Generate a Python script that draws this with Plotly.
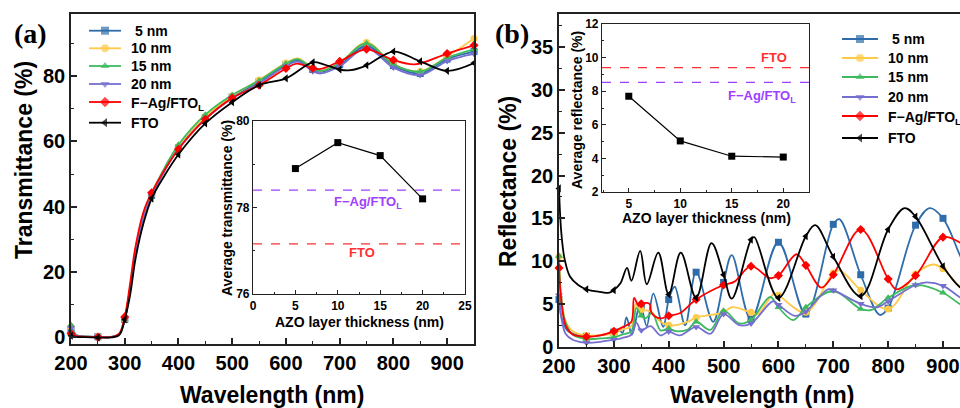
import plotly.graph_objects as go

W, H = 960, 408

# ---------------- shared series info ----------------
names = ["5 nm", "10 nm", "15 nm", "20 nm", "F−Ag/FTO<sub>L</sub>", "FTO"]
colors = ["#2F6DAA", "#FFC94A", "#3DBA5E", "#7570D0", "#FF0000", "#000000"]
symbols = ["square", "circle", "triangle-up", "triangle-down", "diamond", "triangle-left"]

# ---------------- Panel (a): transmittance ----------------
ta_wl = [200, 210, 225, 250, 275, 290, 300, 310, 320, 335, 350, 375, 400, 450, 500,
         550, 600, 622, 650, 665, 700, 750, 800, 850, 900, 950]
ta_5nm = [2.5, 0.6, 0.3, 0.2, 0.2, 1.0, 5.5, 15.0, 26.0, 37.0, 43.5, 51.5, 58.0, 67.3, 73.6,
          78.3, 83.5, 84.8, 82.0, 81.3, 83.5, 89.2, 83.2, 80.8, 85.2, 87.5]
ta_10nm = [3.3, 0.7, 0.3, 0.2, 0.2, 1.0, 5.6, 15.2, 26.3, 37.3, 43.8, 51.8, 58.4, 67.6, 73.9,
           78.8, 84.0, 85.4, 82.4, 81.6, 84.0, 90.3, 83.6, 81.5, 86.0, 91.5]
ta_15nm = [3.8, 0.8, 0.3, 0.2, 0.2, 1.0, 5.6, 15.4, 26.6, 37.6, 44.0, 52.2, 59.0, 68.2, 74.2,
           78.6, 83.8, 85.2, 82.3, 81.6, 84.0, 90.0, 83.6, 81.4, 85.6, 88.2]
ta_20nm = [3.0, 0.6, 0.3, 0.2, 0.2, 1.0, 5.4, 14.8, 25.8, 36.8, 43.3, 51.2, 57.8, 66.8, 73.2,
           77.8, 83.0, 84.4, 81.5, 80.8, 83.0, 88.6, 82.6, 80.3, 84.6, 86.8]
ta_wl_fag = [200, 210, 225, 250, 275, 290, 300, 310, 320, 335, 350, 375, 400, 450, 500,
             550, 600, 620, 650, 665, 700, 750, 800, 840, 900, 950]
ta_fag = [1.2, 0.4, 0.2, 0.1, 0.1, 1.3, 6.3, 16.5, 27.8, 38.5, 44.3, 51.5, 57.6, 66.8, 73.3,
          77.2, 82.3, 83.8, 82.4, 82.2, 84.5, 88.2, 84.9, 83.6, 86.9, 89.4]
ta_wl_fto = [200, 210, 225, 250, 275, 290, 300, 310, 320, 335, 350, 375, 400, 450, 500,
             550, 600, 650, 670, 700, 720, 750, 800, 850, 900, 950]
ta_fto = [0.5, 0.2, 0.1, 0.0, 0.0, 0.8, 5.5, 13.0, 24.0, 35.0, 42.5, 49.8, 56.0, 65.5, 72.0,
          77.2, 79.3, 84.2, 83.6, 82.0, 81.8, 83.3, 87.5, 84.5, 81.6, 84.0]

# inset (a)
inset_a_thk = [5, 10, 15, 20]
inset_a_avgT = [78.9, 79.5, 79.2, 78.2]
inset_a_ref_fag = 78.4
inset_a_ref_fto = 77.16

# ---------------- Panel (b): reflectance ----------------
rb_wl_5nm = [200, 205, 215, 230, 250, 275, 300, 310, 316, 323, 333, 347, 350, 360, 372, 390,
             400, 411, 430, 450, 481, 500, 515, 550, 600, 650, 700, 711, 750, 785, 800, 850,
             876, 900, 930, 950]
rb_5nm = [5.5, 3.3, 1.9, 1.4, 1.2, 1.3, 1.7, 1.9, 1.6, 3.4, 1.4, 4.9, 4.7, 2.4, 6.2, 2.3,
          5.5, 7.0, 2.5, 8.7, 2.9, 7.5, 10.7, 3.2, 12.2, 3.8, 14.3, 14.9, 8.4, 3.7, 4.5, 14.2,
          16.2, 15.0, 10.8, 7.8]
rb_wl_10nm = [200, 204, 212, 225, 250, 275, 300, 315, 332, 340, 345, 350, 367, 385, 400, 413,
              438, 450, 500, 515, 550, 562, 592, 600, 650, 700, 712, 750, 800, 850, 882, 900,
              930, 950]
rb_10nm = [10.5, 6.0, 3.0, 1.8, 1.3, 1.35, 1.5, 2.0, 2.4, 5.0, 4.4, 4.3, 4.1, 2.9, 2.5, 2.5,
           3.0, 3.4, 4.0, 4.6, 4.0, 3.8, 6.2, 6.0, 4.0, 8.6, 8.9, 6.6, 4.4, 8.5, 9.6, 9.1,
           7.0, 5.8]
rb_wl_15nm = [200, 204, 212, 225, 250, 275, 300, 315, 332, 341, 350, 357, 370, 385, 400, 413,
              435, 450, 476, 500, 529, 550, 585, 600, 627, 650, 700, 750, 770, 800, 850, 900,
              930, 950]
rb_15nm = [10.6, 5.5, 2.8, 1.4, 0.9, 0.95, 1.1, 1.4, 1.8, 4.5, 3.6, 3.3, 3.9, 1.9, 2.1, 1.8,
           2.0, 2.9, 1.95, 4.2, 2.7, 3.1, 5.8, 4.6, 3.1, 4.6, 6.5, 4.4, 4.3, 5.7, 7.2, 6.3,
           5.0, 4.3]
rb_wl_20nm = [200, 204, 212, 225, 250, 275, 300, 315, 332, 341, 350, 367, 385, 400, 420, 450,
              476, 500, 529, 550, 590, 600, 630, 650, 690, 700, 750, 780, 800, 850, 870, 900,
              930, 950]
rb_20nm = [6.0, 3.5, 1.5, 0.8, 0.45, 0.55, 0.8, 1.0, 1.4, 2.8, 1.9, 2.4, 1.3, 1.75, 1.3, 2.3,
           1.5, 3.8, 2.5, 2.7, 5.3, 4.9, 3.6, 4.1, 6.7, 6.6, 5.0, 4.6, 5.3, 7.2, 7.5, 7.1,
           5.8, 5.0]
rb_wl_fag = [200, 204, 212, 225, 250, 275, 300, 317, 332, 337, 345, 350, 365, 369, 385, 400,
             420, 450, 500, 520, 550, 585, 600, 633, 650, 678, 700, 750, 800, 815, 850, 900,
             930, 950]
rb_fag = [9.2, 5.5, 2.5, 1.4, 1.15, 1.3, 1.8, 2.3, 2.9, 5.7, 4.8, 5.0, 5.0, 3.9, 3.3, 3.6,
          3.9, 5.5, 7.2, 7.6, 9.4, 8.0, 8.3, 10.8, 9.5, 6.9, 8.4, 13.7, 7.9, 6.7, 8.3, 12.8,
          12.2, 11.0]
rb_wl_fto = [200, 204, 210, 220, 235, 250, 275, 292, 300, 312, 324, 332, 348, 360, 381, 400,
             422, 450, 478, 500, 515, 550, 556, 600, 650, 667, 700, 750, 800, 830, 850, 900,
             930, 950]
rb_fto = [18.5, 13.5, 10.3, 8.2, 7.2, 6.7, 6.4, 6.3, 6.6, 7.4, 9.2, 7.7, 11.2, 7.3, 11.0, 6.1,
          11.0, 5.7, 12.1, 8.4, 5.6, 12.5, 12.8, 5.7, 12.9, 14.2, 10.5, 5.9, 13.7, 16.2, 15.2,
          9.4, 7.0, 6.3]

# inset (b)
inset_b_thk = [5, 10, 15, 20]
inset_b_avgR = [7.7, 5.04, 4.13, 4.08]
inset_b_ref_fto = 9.4
inset_b_ref_fag = 8.53

# ---------------- helpers ----------------
def px(x):
    return x / W

def py(y):
    return 1 - y / H

FONT = "Liberation Sans, Arial, sans-serif"
AX = "#222222"

fig = go.Figure()

panel_a = [(ta_wl, ta_5nm), (ta_wl, ta_10nm), (ta_wl, ta_15nm), (ta_wl, ta_20nm),
           (ta_wl_fag, ta_fag), (ta_wl_fto, ta_fto)]
panel_b = [(rb_wl_5nm, rb_5nm), (rb_wl_10nm, rb_10nm), (rb_wl_15nm, rb_15nm),
           (rb_wl_20nm, rb_20nm), (rb_wl_fag, rb_fag), (rb_wl_fto, rb_fto)]

for (xa, ya), (xb, yb), c, s in zip(panel_a, panel_b, colors, symbols):
    for (xx, yy, xr, yr) in [(xa, ya, "x", "y"), (xb, yb, "x2", "y2")]:
        fig.add_trace(go.Scatter(x=xx, y=yy, mode="lines", xaxis=xr, yaxis=yr,
                                 line=dict(color=c, width=1.8, shape="spline", smoothing=1.0),
                                 showlegend=False, hoverinfo="skip"))
        mx = [a for a in xx if a % 50 == 0]
        my = [b for a, b in zip(xx, yy) if a % 50 == 0]
        fig.add_trace(go.Scatter(x=mx, y=my, mode="markers", xaxis=xr, yaxis=yr,
                                 marker=dict(color=c, symbol=s, size=7, line=dict(width=0)),
                                 cliponaxis=False, showlegend=False, hoverinfo="skip"))

# insets
fig.add_trace(go.Scatter(x=inset_a_thk, y=inset_a_avgT, mode="lines+markers", xaxis="x3", yaxis="y3",
                         line=dict(color="black", width=1.2),
                         marker=dict(symbol="square", size=7, color="black"),
                         showlegend=False, hoverinfo="skip"))
fig.add_trace(go.Scatter(x=inset_b_thk, y=inset_b_avgR, mode="lines+markers", xaxis="x4", yaxis="y4",
                         line=dict(color="black", width=1.2),
                         marker=dict(symbol="square", size=7, color="black"),
                         showlegend=False, hoverinfo="skip"))

PURPLE = "#A040FF"
RED2 = "#FF3030"
shapes = []
for xr, yr, val, col in [("x3", "y3", inset_a_ref_fag, PURPLE), ("x3", "y3", inset_a_ref_fto, RED2),
                         ("x4", "y4", inset_b_ref_fag, PURPLE), ("x4", "y4", inset_b_ref_fto, RED2)]:
    shapes.append(dict(type="line", xref=f"{xr} domain", yref=yr, x0=0, x1=1, y0=val, y1=val,
                       line=dict(color=col, width=1.2, dash="dash")))

# manual legends drawn on a full-page overlay axis (pixel units)
leg_a_rows = [30.7, 48.3, 66.0, 84.0, 102.0, 122.7]
leg_b_rows = [39.0, 58.0, 77.0, 97.0, 116.0, 138.0]
leg_a_line = (89, 121)
leg_b_line = (842, 878)
for rows, (x0, x1) in [(leg_a_rows, leg_a_line), (leg_b_rows, leg_b_line)]:
    for yrow, c, s in zip(rows, colors, symbols):
        fig.add_trace(go.Scatter(x=[x0, (x0 + x1) / 2, x1], y=[yrow, yrow, yrow], mode="lines+markers",
                                 xaxis="x5", yaxis="y5", line=dict(color=c, width=1.8),
                                 marker=dict(symbol=s, size=[0, 8, 0], color=c, line=dict(width=0)),
                                 showlegend=False, hoverinfo="skip", cliponaxis=False))

annotations = []
def ann(text, x, y, size, color="black", angle=0, xanchor="center", family=FONT, weight="bold"):
    annotations.append(dict(text=text, x=px(x), y=py(y), xref="paper", yref="paper",
                            xanchor=xanchor, yanchor="middle", showarrow=False, textangle=angle,
                            font=dict(family=family, size=size, color=color, weight=weight)))

leg_a_text_x = [133, 129, 129, 129, 129, 129]
leg_b_text_x = [890, 886, 886, 886, 886, 886]
for rows, xs in [(leg_a_rows, leg_a_text_x), (leg_b_rows, leg_b_text_x)]:
    for yrow, xt, n in zip(rows, xs, names):
        ann(n, xt, yrow + (2 if "sub" in n else 0), 14, xanchor="left")

SERIF = "Liberation Serif, Times New Roman, serif"
ann("(a)", 30, 33, 28, family=SERIF)
ann("(b)", 512, 33, 28, family=SERIF)
ann("Transmittance (%)", 24, 160, 23, angle=-90)
ann("Wavelength (nm)", 272, 395, 23)
ann("Reflectance (%)", 508, 182, 23, angle=-90)
ann("Wavelength (nm)", 762, 395, 23)
ann("Average transmittance (%)", 227, 208, 14, angle=-90)
ann("AZO layer thickness (nm)", 359, 322, 14)
ann("F−Ag/FTO<sub>L</sub>", 368, 202, 13, color=PURPLE)
ann("FTO", 362, 252, 13, color=RED2)
ann("Average reflectance (%)", 577, 110, 14, angle=-90)
ann("AZO layer thickness (nm)", 706, 218, 14)
ann("FTO", 774, 58, 13, color=RED2)
ann("F−Ag/FTO<sub>L</sub>", 762, 96, 13, color=PURPLE)

def main_axis(domain, rng, tick0, dtick, mdtick, anchor, mirror=True):
    return dict(domain=domain, range=rng, anchor=anchor, tick0=tick0, dtick=dtick,
                ticks="inside", ticklen=6, tickwidth=1.5, tickcolor=AX,
                showline=True, linecolor=AX, linewidth=1.5, mirror=mirror,
                showgrid=False, zeroline=False,
                tickfont=dict(family=FONT, size=20, color="black", weight="bold"),
                minor=dict(dtick=mdtick, ticks="inside", ticklen=3, tickwidth=1.2, tickcolor=AX,
                           showgrid=False))

def inset_axis(domain, rng, tick0, dtick, mdtick, anchor):
    return dict(domain=domain, range=rng, anchor=anchor, tick0=tick0, dtick=dtick,
                ticks="inside", ticklen=4, tickwidth=1, tickcolor=AX,
                showline=True, linecolor=AX, linewidth=1.2, mirror=True,
                showgrid=False, zeroline=False,
                tickfont=dict(family=FONT, size=12, color="black", weight="bold"),
                minor=dict(dtick=mdtick, ticks="inside", ticklen=2, tickwidth=1, tickcolor=AX,
                           showgrid=False))

fig.update_layout(
    width=W, height=H,
    margin=dict(l=0, r=0, t=0, b=0, pad=0, autoexpand=False),
    paper_bgcolor="white", plot_bgcolor="rgba(0,0,0,0)",
    showlegend=False,
    xaxis=main_axis([px(71), px(474)], [200, 950], 200, 100, 50, "y"),
    yaxis=main_axis([py(344), py(14)], [-2, 99], 0, 20, 10, "x"),
    xaxis2=main_axis([px(559), 1.0], [200, 931], 200, 100, 50, "y2"),
    yaxis2=main_axis([py(347), py(14)], [-0.05, 38.9], 0, 5, 2.5, "x2", mirror=False),
    xaxis3=inset_axis([px(253), px(465)], [0, 25], 0, 5, 2.5, "y3"),
    yaxis3=inset_axis([py(294), py(121)], [76, 80], 76, 2, 1, "x3"),
    xaxis4=inset_axis([px(602), px(809)], [2.4, 22.5], 5, 5, 2.5, "y4"),
    yaxis4=inset_axis([py(192), py(24)], [2, 12], 2, 2, 1, "x4"),
    xaxis5=dict(domain=[0, 1], range=[0, W], visible=False, anchor="y5", fixedrange=True),
    yaxis5=dict(domain=[0, 1], range=[H, 0], visible=False, anchor="x5", fixedrange=True),
    shapes=shapes,
    annotations=annotations,
)
# top line of panel b frame via mirror on x only
fig.update_layout(xaxis2=dict(mirror=True))

fig.write_html("out.html")
